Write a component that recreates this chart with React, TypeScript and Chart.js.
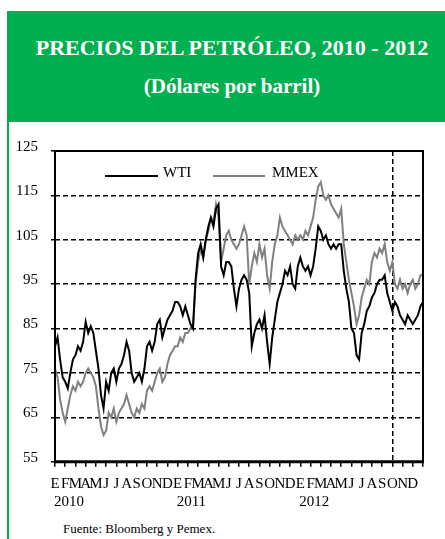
import React, { useEffect, useRef } from 'react';
import Chart from 'chart.js/auto';

// ---- data ----
const monthLetters = ['E', 'F', 'M', 'A', 'M', 'J', 'J', 'A', 'S', 'O', 'N', 'D'];
const years = ['2010', '2011', '2012'];
const seriesNames = ['WTI', 'MMEX'];
const seriesColors = ['#000000', '#808080'];
const pointsPerMonth = 4;
const markerMonth = 33;
const yMin = 55;
const yMax = 125;
const yStep = 10;

const wti = [
  // 2010
  81, 83, 78, 74, 73, 71.5, 75, 78, 79, 81, 80, 82, 86.5, 84, 85.5, 84,
  80, 76, 70, 67, 73, 71, 75, 76, 73, 76, 77, 79, 82, 80, 75, 73,
  74, 75, 73, 76, 81, 82, 80, 82, 86, 87, 83, 85, 87, 88, 89, 91,
  // 2011
  91, 90, 88, 90, 88, 86, 85, 96, 102, 104, 101, 105, 108, 110, 108, 112,
  113, 99, 97, 100, 100, 99, 94, 90, 94, 96, 97, 96, 93, 81, 84, 86,
  87, 85, 88, 82, 77, 83, 87, 91, 93, 95, 98, 97, 99, 95, 94, 99,
  // 2012
  101, 99, 98, 99, 97, 99, 103, 108, 107, 105, 106, 104, 103, 104, 103, 104,
  104, 98, 94, 91, 85, 84, 79, 78, 84, 86, 89, 90, 92, 93, 95, 96,
  96, 97, 93, 91, 89, 91, 90, 88, 87, 86, 88, 87, 86, 87, 88, 90,
  91,
];

const mmex = [
  // 2010
  76, 74, 69, 66, 64, 67, 70, 72, 71, 73, 72, 73, 75, 76, 75, 74,
  72, 67, 63, 61, 62, 66, 65, 67, 64, 66, 67, 68, 70, 68, 66, 65,
  67, 66, 68, 67, 71, 72, 71, 73, 75, 76, 73, 74, 77, 79, 80, 81,
  // 2011
  81, 83, 82, 84, 84, 85, 86, 95, 100, 103, 101, 105, 107, 110, 109, 113,
  110, 100, 103, 106, 107, 105, 104, 103, 104, 106, 108, 106, 95, 99, 102, 100,
  104, 101, 103, 97, 94, 100, 104, 106, 110, 108, 107, 106, 105, 104, 106, 105,
  // 2012
  106, 105, 107, 106, 108, 110, 114, 117, 118, 115, 114, 115, 113, 112, 111, 110,
  112, 104, 100, 96, 93, 90, 86, 88, 92, 94, 96, 95, 100, 102, 101, 103,
  102, 104, 100, 98, 100, 95, 94, 96, 94, 95, 93, 95, 96, 94, 95, 97,
  97,
];

const FONT = "'Liberation Serif', 'DejaVu Serif', serif";
const GREEN = '#00B050';

const toPoints = (arr: number[]) => arr.map((v, i) => ({ x: i / pointsPerMonth, y: v }));

const decorPlugin = {
  id: 'decor',
  afterDraw(chart: any) {
    const { ctx, chartArea } = chart;
    const xs = chart.scales.x;
    const { left, right, top, bottom } = chartArea;
    ctx.save();
    // frame
    ctx.setLineDash([]);
    ctx.strokeStyle = '#000';
    ctx.lineWidth = 2;
    ctx.beginPath();
    ctx.moveTo(left, bottom);
    ctx.lineTo(left, top);
    ctx.lineTo(right, top);
    ctx.lineTo(right, bottom);
    ctx.stroke();
    ctx.lineWidth = 3;
    ctx.beginPath();
    ctx.moveTo(left - 1, bottom);
    ctx.lineTo(right + 1, bottom);
    ctx.stroke();

    // year labels
    ctx.fillStyle = '#000';
    ctx.font = `15px ${FONT}`;
    ctx.textAlign = 'left';
    ctx.textBaseline = 'alphabetic';
    years.forEach((yr, k) => {
      const px = xs.getPixelForValue(k * 12);
      ctx.fillText(yr, px - 1, bottom + 44.5);
    });

    // legend inside plot
    const items = [
      { x0: left + 50, x1: left + 103, tx: left + 108 },
      { x0: left + 158, x1: left + 210, tx: left + 217 },
    ];
    const ly = top + 25;
    chart.data.datasets.forEach((ds: any, i: number) => {
      const it = items[i];
      ctx.strokeStyle = ds.borderColor;
      ctx.lineWidth = 2;
      ctx.beginPath();
      ctx.moveTo(it.x0, ly);
      ctx.lineTo(it.x1, ly);
      ctx.stroke();
      ctx.fillStyle = '#000';
      ctx.fillText(ds.label, it.tx, ly + 1);
    });
    ctx.restore();
  },
};

function OilChart() {
  const ref = useRef<HTMLCanvasElement | null>(null);
  useEffect(() => {
    if (!ref.current) return;
    const chart = new Chart(ref.current, {
      type: 'line',
      data: {
        datasets: [
          {
            label: seriesNames[0],
            data: toPoints(wti),
            borderColor: seriesColors[0],
            backgroundColor: seriesColors[0],
            borderWidth: 2,
            pointRadius: 0,
            tension: 0,
          },
          {
            label: seriesNames[1],
            data: toPoints(mmex),
            borderColor: seriesColors[1],
            backgroundColor: seriesColors[1],
            borderWidth: 2,
            pointRadius: 0,
            tension: 0,
          },
        ],
      },
      options: {
        responsive: false,
        animation: false,
        layout: { padding: { left: 0, right: 22, top: 29, bottom: 0 } },
        plugins: {
          legend: { display: false },
          tooltip: { enabled: false },
          title: { display: false },
        },
        scales: {
          x: {
            type: 'linear',
            min: 0,
            max: 36,
            afterFit: (s: any) => {
              s.height = 55.3;
            },
            ticks: {
              stepSize: 1,
              autoSkip: false,
              maxRotation: 0,
              minRotation: 0,
              padding: 8,
              color: '#000',
              font: { family: FONT, size: 15 },
              callback: (v: any) => {
                const n = Number(v);
                if (n >= 36 || n < 0 || !Number.isInteger(n)) return '';
                return monthLetters[n % 12];
              },
            },
            grid: {
              drawOnChartArea: true,
              color: (c: any) => (c.tick && c.tick.value === markerMonth ? '#000' : 'rgba(0,0,0,0)'),
              lineWidth: 1.5,
              tickLength: 5,
              tickColor: '#000',
              tickWidth: 1.5,
              borderDash: [5, 3],
              tickBorderDash: [],
            } as any,
            border: { display: false, dash: [5, 3] },
          },
          y: {
            type: 'linear',
            min: yMin,
            max: yMax,
            afterFit: (s: any) => {
              s.width = 46;
            },
            ticks: {
              stepSize: yStep,
              padding: 13,
              labelOffset: -4,
              color: '#000',
              font: { family: FONT, size: 15 },
            },
            grid: {
              color: '#000',
              lineWidth: 1.5,
              tickLength: 4,
              tickColor: '#000',
              tickWidth: 1.5,
              borderDash: [5, 3],
              tickBorderDash: [],
            } as any,
            border: { display: false, dash: [5, 3] },
          },
        },
      },
      plugins: [decorPlugin],
    } as any);
    return () => chart.destroy();
  }, []);
  return (
    <canvas
      ref={ref}
      width={436}
      height={395}
      style={{ position: 'absolute', left: 9, top: 122, width: 436, height: 395 }}
    />
  );
}

export default function App() {
  return (
    <div>
      <div
        style={{
          position: 'absolute',
          left: 7,
          top: 11,
          width: 2,
          height: 528,
          background: GREEN,
        }}
      />
      <div
        style={{
          position: 'absolute',
          left: 7,
          top: 11,
          width: 438,
          height: 111,
          background: GREEN,
        }}
      />
      <div
        style={{
          position: 'absolute',
          left: 19,
          top: 36.6,
          width: 426,
          textAlign: 'center',
          color: '#fff',
          fontFamily: FONT,
          fontWeight: 'bold',
          fontSize: 22,
          lineHeight: '22px',
          whiteSpace: 'nowrap',
        }}
      >
        PRECIOS DEL PETRÓLEO, 2010 - 2012
      </div>
      <div
        style={{
          position: 'absolute',
          left: 19,
          top: 76.4,
          width: 426,
          textAlign: 'center',
          color: '#fff',
          fontFamily: FONT,
          fontWeight: 'bold',
          fontSize: 21,
          lineHeight: '21px',
          whiteSpace: 'nowrap',
        }}
      >
        (Dólares por barril)
      </div>
      <OilChart />
      <div
        style={{
          position: 'absolute',
          left: 63,
          top: 522,
          color: '#000',
          fontFamily: FONT,
          fontSize: 13,
          lineHeight: '13px',
          whiteSpace: 'nowrap',
        }}
      >
        Fuente: Bloomberg y Pemex.
      </div>
    </div>
  );
}
